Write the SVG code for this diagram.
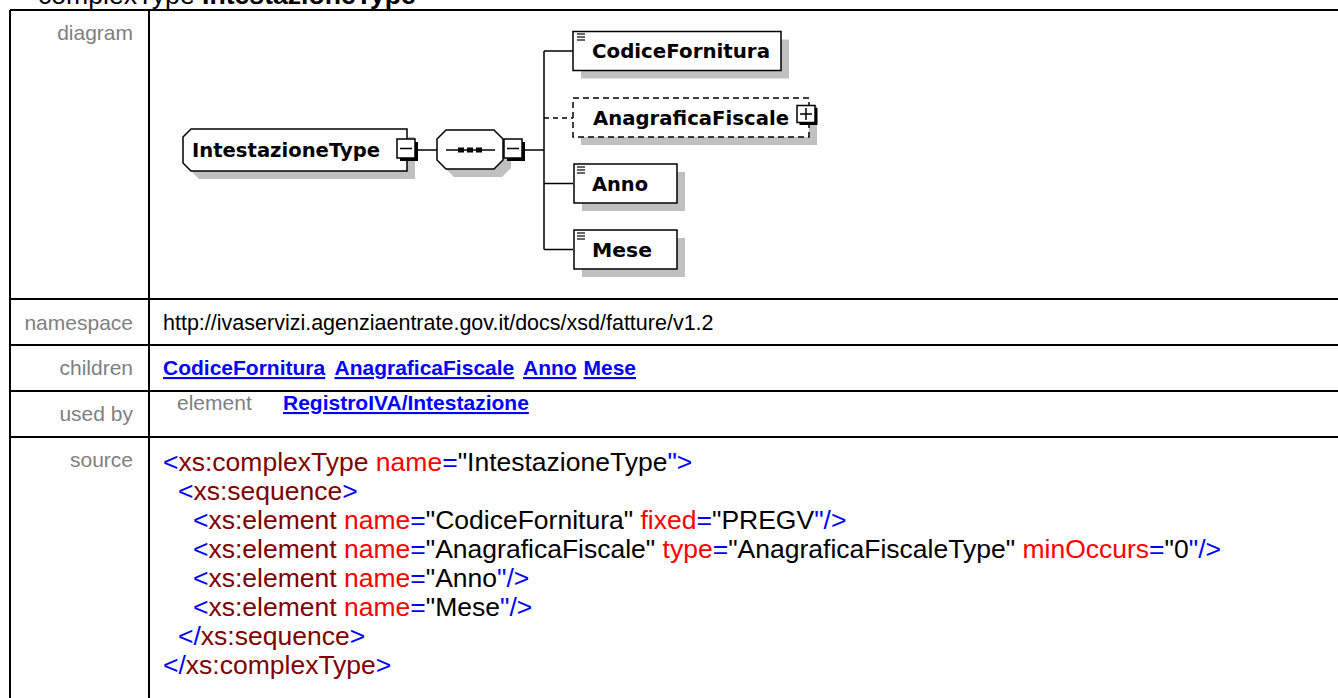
<svg xmlns="http://www.w3.org/2000/svg" width="1338" height="698" viewBox="0 0 1338 698">
<style>
.t{font-family:"Liberation Sans",Arial,sans-serif}
.lbl{font-size:21px;fill:#808080;text-anchor:end}
.val{font-size:21.5px;fill:#000}
.lnk{font-size:21px;font-weight:bold;fill:#0000FF;text-decoration:underline}
.src{font-size:26.5px}
.b{fill:#0000FF}.e{fill:#800000}.a{fill:#FF0000}.v{fill:#000000}
.box{fill:#fff;stroke:#000;stroke-width:1.5}
.dbox{fill:#fff;stroke:#000;stroke-width:1.5;stroke-dasharray:6 4}
.shd{fill:#C0C0C0}
.nt{font-family:"DejaVu Sans",Verdana,sans-serif;font-weight:bold;font-size:20px;fill:#000}
.con{stroke:#000;stroke-width:1.5;fill:none}
.dcon{stroke:#000;stroke-width:1.5;fill:none;stroke-dasharray:5 4}
.grid{stroke:#000;stroke-width:2;fill:none}
.ic{stroke:#000;stroke-width:1.2}
</style>
<defs>
<g id="minus">
<rect x="3" y="3" width="18" height="19" fill="#000"/>
<rect x="0" y="0" width="18" height="19" fill="#fff" stroke="#000" stroke-width="1.5"/>
<line x1="3" y1="9.5" x2="15" y2="9.5" stroke="#000" stroke-width="1.5"/>
</g>
<g id="plus">
<rect x="2.5" y="2.5" width="18" height="17" fill="#000"/>
<rect x="0" y="0" width="18" height="17" fill="#fff" stroke="#000" stroke-width="1.5"/>
<line x1="3" y1="8.5" x2="15" y2="8.5" stroke="#000" stroke-width="1.5"/>
<line x1="9" y1="2.5" x2="9" y2="14.5" stroke="#000" stroke-width="1.5"/>
</g>
<g id="icon">
<line x1="0" y1="0" x2="8" y2="0" class="ic"/>
<line x1="0" y1="3" x2="8" y2="3" class="ic"/>
<line x1="0" y1="6" x2="8" y2="6" class="ic"/>
</g>
</defs>
<rect width="1338" height="698" fill="#fff"/>

<text class="t" x="38" y="4" font-size="26.6px"><tspan>complexType </tspan><tspan font-weight="bold">IntestazioneType</tspan></text>

<g id="table">
<path class="grid" d="M10 10H1338M10 10V698M149 10V698M10 299H1338M10 345H1338M10 391H1338M10 437H1338"/>
<text class="t lbl" x="133" y="40">diagram</text>
<text class="t lbl" x="133" y="330">namespace</text>
<text class="t lbl" x="133" y="375">children</text>
<text class="t lbl" x="133" y="421">used by</text>
<text class="t lbl" x="133" y="467">source</text>
<text class="t val" x="163" y="330">http://ivaservizi.agenziaentrate.gov.it/docs/xsd/fatture/v1.2</text>
<text class="t lnk" x="163" y="375">CodiceFornitura</text>
<text class="t lnk" x="334.5" y="375">AnagraficaFiscale</text>
<text class="t lnk" x="523" y="375">Anno</text>
<text class="t lnk" x="583.5" y="375">Mese</text>
<text class="t" x="177" y="410" font-size="21px" fill="#808080">element</text>
<text class="t lnk" x="283" y="410">RegistroIVA/Intestazione</text>
</g>

<g id="source" class="t src">
<text x="163" y="470.5"><tspan class="b">&lt;</tspan><tspan class="e">xs:complexType</tspan><tspan class="v"> </tspan><tspan class="a">name</tspan><tspan class="b">=</tspan><tspan class="v">"IntestazioneType</tspan><tspan class="b">"&gt;</tspan></text>
<text x="178" y="499.5"><tspan class="b">&lt;</tspan><tspan class="e">xs:sequence</tspan><tspan class="b">&gt;</tspan></text>
<text x="193" y="528.5"><tspan class="b">&lt;</tspan><tspan class="e">xs:element</tspan><tspan class="v"> </tspan><tspan class="a">name</tspan><tspan class="b">=</tspan><tspan class="v">"CodiceFornitura" </tspan><tspan class="a">fixed</tspan><tspan class="b">=</tspan><tspan class="v">"PREGV</tspan><tspan class="b">"/&gt;</tspan></text>
<text x="193" y="557.5"><tspan class="b">&lt;</tspan><tspan class="e">xs:element</tspan><tspan class="v"> </tspan><tspan class="a">name</tspan><tspan class="b">=</tspan><tspan class="v">"AnagraficaFiscale" </tspan><tspan class="a">type</tspan><tspan class="b">=</tspan><tspan class="v">"AnagraficaFiscaleType" </tspan><tspan class="a">minOccurs</tspan><tspan class="b">=</tspan><tspan class="v">"0</tspan><tspan class="b">"/&gt;</tspan></text>
<text x="193" y="586.5"><tspan class="b">&lt;</tspan><tspan class="e">xs:element</tspan><tspan class="v"> </tspan><tspan class="a">name</tspan><tspan class="b">=</tspan><tspan class="v">"Anno</tspan><tspan class="b">"/&gt;</tspan></text>
<text x="193" y="615.5"><tspan class="b">&lt;</tspan><tspan class="e">xs:element</tspan><tspan class="v"> </tspan><tspan class="a">name</tspan><tspan class="b">=</tspan><tspan class="v">"Mese</tspan><tspan class="b">"/&gt;</tspan></text>
<text x="178" y="644.5"><tspan class="b">&lt;/</tspan><tspan class="e">xs:sequence</tspan><tspan class="b">&gt;</tspan></text>
<text x="163" y="673.5"><tspan class="b">&lt;/</tspan><tspan class="e">xs:complexType</tspan><tspan class="b">&gt;</tspan></text>
</g>

<g id="connectors">
<line class="con" x1="418" y1="150" x2="437" y2="150"/>
<line class="con" x1="525" y1="150" x2="544" y2="150"/>
<line class="con" x1="544" y1="51" x2="544" y2="249.5"/>
<line class="con" x1="544" y1="51" x2="573" y2="51"/>
<line class="dcon" x1="544" y1="118" x2="573" y2="118"/>
<line class="con" x1="544" y1="183.5" x2="573" y2="183.5"/>
<line class="con" x1="544" y1="249.5" x2="573" y2="249.5"/>
</g>

<g id="node-IntestazioneType">
<polygon class="shd" points="191,137 199,137 415,137 415,179 199,179 191,171"/>
<polygon class="box" points="183,137 191,129 407,129 407,171 191,171 183,163"/>
<text class="nt" x="192" y="157" textLength="188" lengthAdjust="spacingAndGlyphs">IntestazioneType</text>
<use href="#minus" x="397" y="139"/>
</g>

<g id="node-sequence">
<polygon class="shd" points="445,147 454,138 502,138 511,147 511,168 502,177 454,177 445,168"/>
<polygon class="box" points="437,139 446,130 494,130 503,139 503,160 494,169 446,169 437,160"/>
<line class="con" x1="446" y1="150" x2="495" y2="150"/>
<rect x="458" y="147.5" width="6" height="5" fill="#000"/>
<rect x="467" y="147.5" width="6" height="5" fill="#000"/>
<rect x="476" y="147.5" width="6" height="5" fill="#000"/>
<use href="#minus" x="504" y="139"/>
</g>

<g id="node-CodiceFornitura">
<rect class="shd" x="581" y="39.5" width="208" height="39"/>
<rect class="box" x="573" y="31.5" width="208" height="39"/>
<use href="#icon" x="577" y="34"/>
<text class="nt" x="592" y="58" textLength="178" lengthAdjust="spacingAndGlyphs">CodiceFornitura</text>
</g>

<g id="node-AnagraficaFiscale">
<rect class="shd" x="581" y="106" width="236" height="39"/>
<rect class="dbox" x="573" y="98" width="236" height="39"/>
<text class="nt" x="593" y="124.5" textLength="196" lengthAdjust="spacingAndGlyphs">AnagraficaFiscale</text>
<use href="#plus" x="797" y="105.5"/>
</g>

<g id="node-Anno">
<rect class="shd" x="582" y="172" width="103" height="39"/>
<rect class="box" x="574" y="164" width="103" height="39"/>
<use href="#icon" x="577" y="167"/>
<text class="nt" x="592" y="191" textLength="56" lengthAdjust="spacingAndGlyphs">Anno</text>
</g>

<g id="node-Mese">
<rect class="shd" x="582" y="238" width="103" height="39"/>
<rect class="box" x="574" y="230" width="103" height="39"/>
<use href="#icon" x="577" y="233"/>
<text class="nt" x="592" y="257" textLength="60" lengthAdjust="spacingAndGlyphs">Mese</text>
</g>
</svg>
